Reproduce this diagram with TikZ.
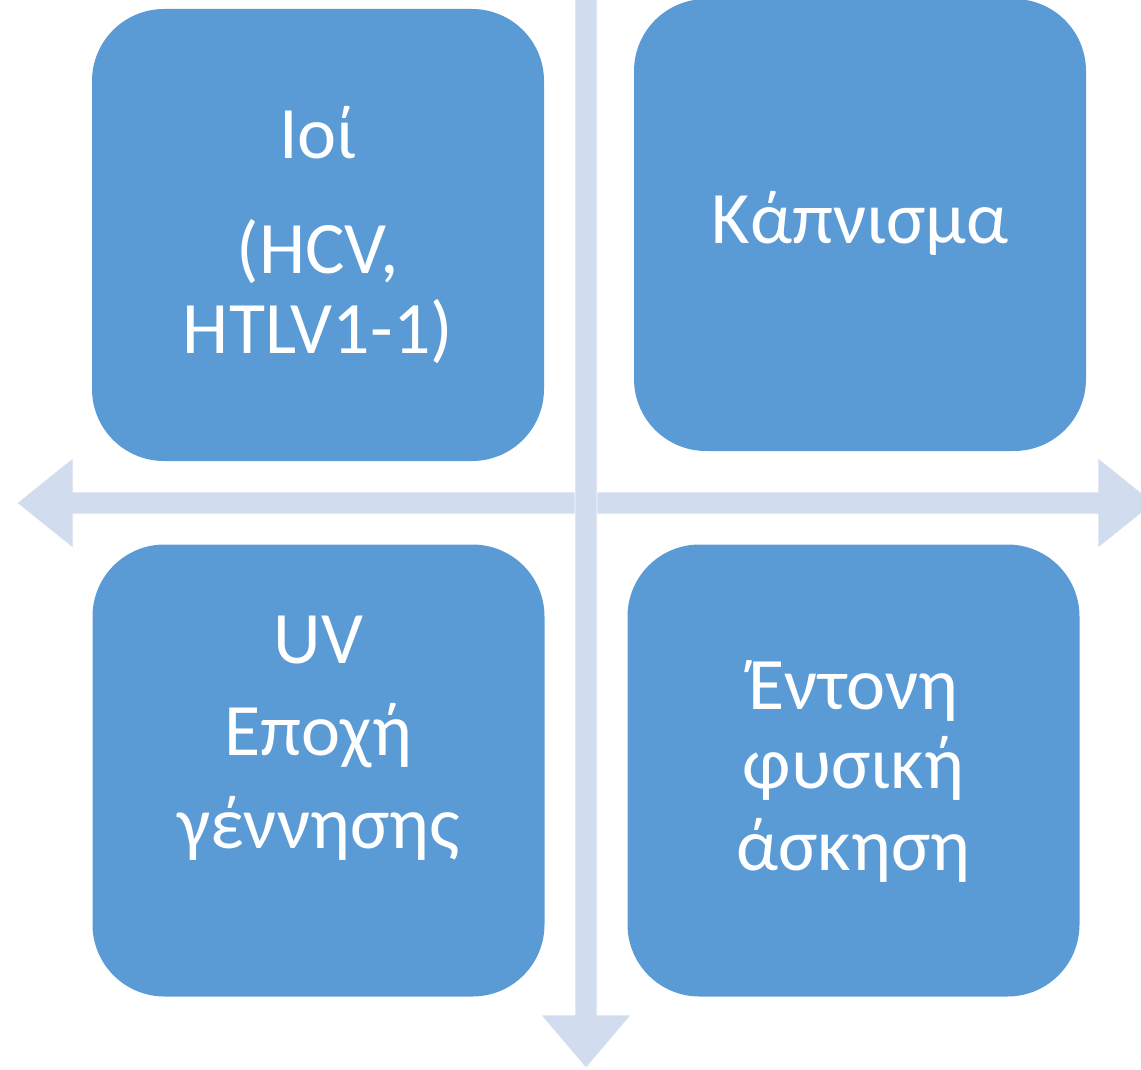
\documentclass[tikz,border=0pt]{standalone}
\usepackage{fontspec}
\setmainfont{Carlito}
\usepackage{tikz}
\definecolor{boxblue}{HTML}{5B9BD5}
\definecolor{arrowblue}{HTML}{D1DCEE}
\tikzset{
	quad/.style={fill=boxblue, rounded corners=72pt, minimum width=452pt, minimum height=452pt, inner sep=0pt},
	txt/.style={text=white, anchor=base, inner sep=0pt, font=\fontsize{74}{80}\selectfont},
	bigarrow/.style={fill=arrowblue, draw=white, line width=0.6pt}
}

\begin{document}
\begin{tikzpicture}[x=1pt,y=-1pt]
					\useasboundingbox (0,0) rectangle (1141,1070);
					\draw[bigarrow] (17,503) -- (73,458) -- (73,492) -- (1098,492) -- (1098,458) -- (1154,503)
					-- (1098,548) -- (1098,514) -- (73,514) -- (73,548) -- cycle;
					\draw[bigarrow] (575,-10) -- (597,-10) -- (597,1015) -- (631,1015) -- (586,1068)
					-- (541,1015) -- (575,1015) -- cycle;
					\node[quad] (viruses) at (318,235) {};
					\node[quad] (smoking) at (860,225) {};
					\node[quad] (uvbirth) at (318.5,770.5) {};
					\node[quad] (exercise) at (853.5,770.5) {};
					\foreach \y/\t [count=\i] in {159/Ιοί,273/{(HCV,},353/{HTLV1-1)}}
					\node[txt] (viruses\i) at (viruses |- 0,\y) {\t};
					\node[txt] (smoking1) at (smoking |- 0,243) {Κάπνισμα};
					\foreach \y/\t [count=\i] in {663/UV,755/Εποχή,848/γέννησης}
					\node[txt] (uvbirth\i) at (uvbirth |- 0,\y) {\t};
					\foreach \y/\t [count=\i] in {709/Έντονη,788/φυσική,870/άσκηση}
					\node[txt] (exercise\i) at (exercise |- 0,\y) {\t};
				\end{tikzpicture}
\end{document}
